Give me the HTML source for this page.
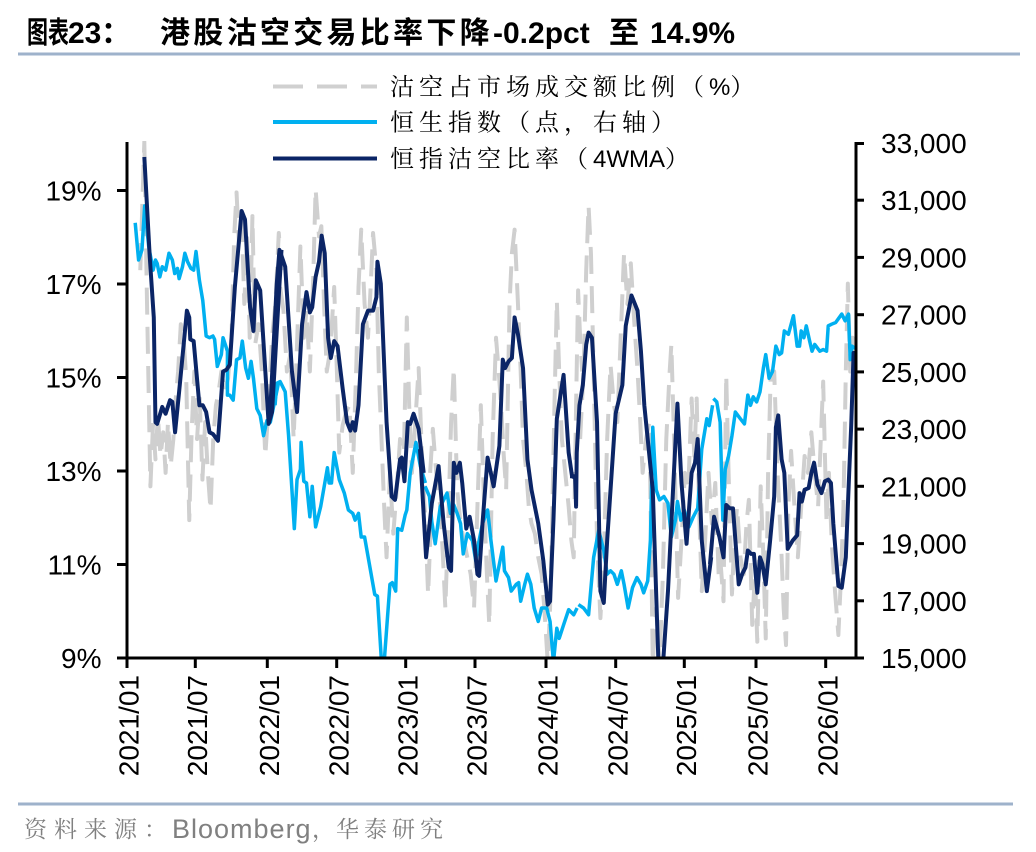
<!DOCTYPE html>
<html>
<head>
<meta charset="utf-8">
<style>
html,body{margin:0;padding:0;background:#fff;}
svg{display:block;}
.ax{font-family:"Liberation Sans",Arial,sans-serif;font-size:28px;fill:#000;}
</style>
</head>
<body>
<svg width="1036" height="852" viewBox="0 0 1036 852" xmlns="http://www.w3.org/2000/svg">
<rect x="0" y="0" width="1036" height="852" fill="#fff"/>

<!-- Title -->
<text transform="translate(27,43) scale(0.7,1)" font-family="Liberation Sans, Noto Sans CJK SC, sans-serif" font-weight="bold" font-size="30">图表</text>
<text y="43" font-family="Liberation Sans, Noto Sans CJK SC, sans-serif" font-weight="bold" font-size="30">
<tspan x="68">23</tspan><tspan x="101">：</tspan><tspan x="160" letter-spacing="3.3">港股沽空交易比率下降</tspan><tspan x="493">-0.2pct</tspan><tspan x="609">至</tspan><tspan x="650">14.9%</tspan>
</text>
<line x1="18" y1="54" x2="1020" y2="54" stroke="#9eb2cb" stroke-width="3"/>

<!-- Legend -->
<line x1="273" y1="86.5" x2="377" y2="86.5" stroke="#d0d0d0" stroke-width="4" stroke-dasharray="30 14"/>
<line x1="273" y1="122" x2="377" y2="122" stroke="#00b0f0" stroke-width="4"/>
<line x1="273" y1="158.5" x2="377" y2="158.5" stroke="#0b2566" stroke-width="4"/>
<g font-family="Liberation Sans, Noto Serif CJK SC, serif" font-size="24" fill="#000">
<text x="390" y="95"><tspan letter-spacing="5">沽空占市场成交额比例（</tspan><tspan letter-spacing="0">%</tspan><tspan letter-spacing="0">）</tspan></text>
<text x="390" y="130.5" letter-spacing="5">恒生指数（点，右轴）</text>
<text x="390" y="167"><tspan letter-spacing="5">恒指沽空比率（</tspan><tspan letter-spacing="0">4WMA</tspan><tspan letter-spacing="0">）</tspan></text>
</g>

<!-- Series -->
<defs><clipPath id="pc"><rect x="128" y="141" width="728" height="516"/></clipPath></defs>
<g clip-path="url(#pc)" fill="none" stroke-linejoin="round" stroke-linecap="butt">
 <!-- gray dashed -->
 <g stroke="#cfcfcf" stroke-width="11.8" stroke-dasharray="80 36">
  <polyline transform="translate(120,135) scale(0.33784)" points="60,400 72,20 80,500 90,1040 98,850 105,960 112,830 120,950 128,880 135,1000 142,850 150,980 158,900 165,780 172,700 180,560 188,600 196,720 205,1140 212,880 220,700 228,900 236,780 244,1020 252,850 260,1000 268,1110 276,900 284,800 292,760 300,700 310,760 320,720 330,600 338,300 345,170 352,320 360,240 368,500 376,300 384,600 392,240 400,620 410,560 420,700 430,950 440,800 450,600 460,500 470,290 478,400"/>
  <polyline transform="translate(270,135) scale(0.33784)" points="30,450 40,520 50,700 60,650 70,900 80,620 90,330 100,600 108,520 118,700 128,420 135,160 145,300 152,270 160,500 168,700 178,640 190,450 198,700 205,940 215,860 225,820 235,800 245,1000 255,700 262,450 270,280 280,500 290,600 298,450 305,290 315,400 322,700 330,900 338,1100 345,1250 355,1000 365,1180 375,1050 385,900 395,1000 405,540 412,800 420,1000 430,850 440,690 450,950 460,1150 468,1360 478,1100"/>
  <polyline transform="translate(420,135) scale(0.33784)" points="30,1000 38,870 48,1000 60,1100 68,1250 75,1400 85,1100 92,850 100,690 110,1050 120,1150 130,1200 140,1250 150,1300 160,1400 170,1100 180,800 190,1100 198,1300 205,1450 215,900 225,600 233,700 240,800 248,950 255,1050 265,500 272,350 280,280 290,500 298,700 305,900 315,1000 322,1100 330,1150 340,1180 350,1250 360,1300 368,1400 378,1560 385,1400 390,1200 398,800 405,490 412,700 420,900 430,1000 440,1100 448,1200 455,1250 462,800 468,460 474,600 480,700"/>
  <polyline transform="translate(570,135) scale(0.33784)" points="30,900 40,700 48,400 55,210 62,350 70,700 80,1200 90,1430 100,1250 110,900 120,680 130,800 140,850 150,600 160,350 170,500 180,380 190,550 200,700 208,850 215,1000 225,900 235,850 245,1560 255,1400 265,1560 275,1300 285,900 295,700 300,620 308,900 320,1370 330,1200 340,1000 350,1050 360,780 368,950 375,780 382,1100 390,1350 400,1200 410,1000 420,1150 430,1030 440,1300 450,1200"/>
  <polyline transform="translate(710,135) scale(0.33784)" points="30,1250 40,1380 48,710 55,1000 65,1360 72,1200 80,1100 90,1250 100,1300 108,1150 115,1080 125,1450 133,1300 140,1500 150,1040 158,1250 165,1490 172,1000 180,700 190,700 200,1000 210,1200 218,1400 225,1510 232,1100 240,935 250,1100 260,1250 270,1100 280,950 290,1000 300,880 310,1000 320,1100 328,900 335,730 345,1150 352,1000 360,1200 370,1350 380,1480 388,1300 395,1100 402,700 408,440 415,700 422,600 430,700 437,620"/>
 </g>
 <!-- light blue HSI -->
 <g stroke="#00b0f0" stroke-width="10.4">
  <polyline transform="translate(120,135) scale(0.33784)" points="45,260 55,370 65,340 73,210 85,330 98,400 105,370 110,380 118,420 125,390 135,400 145,350 155,370 162,410 170,395 175,425 185,390 192,350 200,375 210,395 218,400 225,345 235,430 245,490 255,595 265,600 275,595 280,605 288,685 300,650 305,600 318,640 318,770 325,770 335,785 345,665 355,660 362,610 372,690 380,720 388,670 395,720 405,810 415,830 425,890 435,845 445,850 470,730"/>
  <polyline transform="translate(270,135) scale(0.33784)" points="15,800 20,735 30,730 45,760 55,890 72,1165 80,1020 90,990 92,910 100,1025 108,1030 118,1130 125,1040 135,1160 150,1100 170,985 175,1030 182,1030 190,940 205,1020 220,1060 232,1110 245,1120 252,1140 262,1120 270,1190 280,1190 310,1360 318,1365 330,1560 338,1560 355,1330 362,1325 372,1350 378,1165 390,1170 400,1125 405,1110 415,1000 432,910 445,980 460,1030"/>
  <polyline transform="translate(420,135) scale(0.33784)" points="15,1040 28,1070 35,1145 45,1210 60,1100 70,1080 80,1060 90,1120 100,1095 110,1120 120,1150 128,1240 140,1180 155,1200 165,1260 175,1200 185,1150 200,1110 210,1200 225,1320 235,1270 245,1220 250,1290 262,1310 270,1350 285,1330 292,1325 298,1380 310,1330 318,1300 328,1330 338,1400 350,1440 360,1400 375,1400 385,1440 395,1560 405,1460 412,1490 425,1450 440,1405 455,1420 465,1400"/>
  <polyline transform="translate(570,135) scale(0.33784)" points="25,1390 40,1400 55,1420 70,1250 85,1170 100,1230 110,1300 120,1290 130,1300 140,1330 152,1290 160,1330 172,1400 185,1340 198,1310 210,1330 218,1355 230,1320 238,1200 245,865 255,1050 265,1080 278,1070 290,1090 300,1190 312,1140 318,1085 328,1140 338,1110 352,1160 365,1130 378,1105 390,930 405,840 412,860 422,800"/>
  <polyline transform="translate(710,135) scale(0.33784)" points="10,780 20,790 30,850 38,1140 45,990 55,950 65,890 75,820 90,840 102,855 112,770 120,800 128,775 138,790 148,760 158,690 165,650 175,720 185,700 195,625 205,650 212,645 220,580 232,590 247,535 258,625 265,625 270,580 278,600 285,565 295,610 302,640 310,620 325,640 335,635 345,640 350,565 360,560 372,555 390,530 400,550 410,530 415,665 420,625 428,630 440,625"/>
 </g>
 <!-- dark navy 4WMA -->
 <g stroke="#0b2566" stroke-width="11.8">
  <polyline transform="translate(120,135) scale(0.33784)" points="72,65 88,360 100,540 105,850 110,855 125,805 135,825 148,785 155,790 163,880 175,760 198,520 205,540 208,605 218,610 235,800 245,800 255,820 265,880 275,885 290,905 305,700 315,695 325,680 340,450 360,225 370,250 385,510 395,580 402,430 415,460 440,855 450,820 478,340"/>
  <polyline transform="translate(270,135) scale(0.33784)" points="0,830 20,440 28,340 45,390 65,700 80,820 95,560 108,465 118,525 125,510 135,420 145,375 153,298 162,350 172,600 180,660 190,610 200,625 215,750 228,850 238,875 245,850 252,875 262,800 275,560 290,520 305,520 315,480 318,375 328,440 345,850 360,1070 370,1080 385,960 390,955 398,1025 408,850 415,855 425,825 440,870 455,1000"/>
  <polyline transform="translate(420,135) scale(0.33784)" points="0,930 18,1250 35,1090 55,980 70,1150 85,1280 92,1290 100,970 108,1000 118,970 125,1030 137,1165 147,1130 160,1200 170,1300 175,1305 185,1150 200,955 218,1040 235,920 245,665 252,690 262,670 272,660 280,540 290,590 305,690 318,960 330,1050 350,1150 365,1260 378,1390 385,1380 395,1140 405,840 425,710 440,940 450,1010 460,1015"/>
  <polyline transform="translate(570,135) scale(0.33784)" points="0,1010 15,1010 18,1100 20,940 28,800 38,740 48,620 55,585 65,600 80,850 90,1350 100,1385 110,1200 128,930 135,825 155,740 165,565 182,475 200,520 210,640 220,800 230,900 245,1050 262,1570 275,1570 290,1350 305,1050 318,795 330,1030 345,1210 360,1000 370,970 378,900 390,1200 405,1350 418,1250"/>
  <polyline transform="translate(710,135) scale(0.33784)" points="0,1270 12,1130 28,1190 40,1250 48,1095 58,1105 68,1105 85,1330 95,1300 105,1280 112,1230 122,1240 130,1240 140,1355 148,1250 155,1270 165,1330 178,1200 190,1070 195,865 202,830 212,960 220,1000 230,1225 245,1200 258,1185 265,1060 272,1085 280,1050 292,1045 300,1000 308,970 318,1035 330,1060 340,1025 350,1020 358,1030 365,1150 380,1335 390,1340 402,1250 412,1000 418,860 425,645 430,700 440,690"/>
 </g>
</g>

<!-- Axes -->
<g stroke="#000" stroke-width="3" fill="none">
 <line x1="127" y1="142" x2="127" y2="659.5"/>
 <line x1="856" y1="142" x2="856" y2="659.5"/>
 <line x1="117" y1="658" x2="864" y2="658"/>
 <line x1="117" y1="190.5" x2="127" y2="190.5"/>
 <line x1="117" y1="284" x2="127" y2="284"/>
 <line x1="117" y1="377.5" x2="127" y2="377.5"/>
 <line x1="117" y1="471" x2="127" y2="471"/>
 <line x1="117" y1="564.5" x2="127" y2="564.5"/>
 <line x1="856" y1="143.5" x2="864" y2="143.5"/>
 <line x1="856" y1="200.2" x2="864" y2="200.2"/>
 <line x1="856" y1="257.4" x2="864" y2="257.4"/>
 <line x1="856" y1="314.7" x2="864" y2="314.7"/>
 <line x1="856" y1="371.9" x2="864" y2="371.9"/>
 <line x1="856" y1="429.1" x2="864" y2="429.1"/>
 <line x1="856" y1="486.3" x2="864" y2="486.3"/>
 <line x1="856" y1="543.6" x2="864" y2="543.6"/>
 <line x1="856" y1="600.8" x2="864" y2="600.8"/>
 <line x1="127" y1="658" x2="127" y2="668"/>
 <line x1="195.3" y1="658" x2="195.3" y2="668"/>
 <line x1="267.3" y1="658" x2="267.3" y2="668"/>
 <line x1="336.7" y1="658" x2="336.7" y2="668"/>
 <line x1="405.7" y1="658" x2="405.7" y2="668"/>
 <line x1="475" y1="658" x2="475" y2="668"/>
 <line x1="546" y1="658" x2="546" y2="668"/>
 <line x1="615.7" y1="658" x2="615.7" y2="668"/>
 <line x1="684.3" y1="658" x2="684.3" y2="668"/>
 <line x1="756" y1="658" x2="756" y2="668"/>
 <line x1="825.7" y1="658" x2="825.7" y2="668"/>
</g>

<!-- Left labels -->
<g class="ax" text-anchor="end">
 <text x="101.5" y="200.5">19%</text>
 <text x="101.5" y="294">17%</text>
 <text x="101.5" y="387.5">15%</text>
 <text x="101.5" y="481">13%</text>
 <text x="101.5" y="574.5">11%</text>
 <text x="101.5" y="668">9%</text>
</g>
<!-- Right labels -->
<g class="ax" text-anchor="start">
 <text x="881" y="153">33,000</text>
 <text x="881" y="210.2">31,000</text>
 <text x="881" y="267.4">29,000</text>
 <text x="881" y="324.7">27,000</text>
 <text x="881" y="381.9">25,000</text>
 <text x="881" y="439.1">23,000</text>
 <text x="881" y="496.3">21,000</text>
 <text x="881" y="553.6">19,000</text>
 <text x="881" y="610.8">17,000</text>
 <text x="881" y="668">15,000</text>
</g>
<!-- X labels -->
<g class="ax" text-anchor="end">
 <text transform="translate(138.3,675) rotate(-90)">2021/01</text>
 <text transform="translate(206.9,675) rotate(-90)">2021/07</text>
 <text transform="translate(278.9,675) rotate(-90)">2022/01</text>
 <text transform="translate(348.3,675) rotate(-90)">2022/07</text>
 <text transform="translate(417.3,675) rotate(-90)">2023/01</text>
 <text transform="translate(486.6,675) rotate(-90)">2023/07</text>
 <text transform="translate(557.6,675) rotate(-90)">2024/01</text>
 <text transform="translate(627.3,675) rotate(-90)">2024/07</text>
 <text transform="translate(695.9,675) rotate(-90)">2025/01</text>
 <text transform="translate(767.6,675) rotate(-90)">2025/07</text>
 <text transform="translate(837.3,675) rotate(-90)">2026/01</text>
</g>

<!-- Bottom separator & source -->
<line x1="18" y1="804" x2="1013" y2="804" stroke="#9eb2cb" stroke-width="3"/>
<g font-family="Liberation Sans, Noto Serif CJK SC, serif" fill="#808080">
 <text x="24" y="837" font-size="23" letter-spacing="7">资料来源：</text>
 <text x="172" y="838" font-size="27" letter-spacing="1">Bloomberg</text>
 <text x="312" y="837" font-size="23">，</text>
 <text x="336" y="837" font-size="23" letter-spacing="5">华泰研究</text>
</g>
</svg>
</body>
</html>
